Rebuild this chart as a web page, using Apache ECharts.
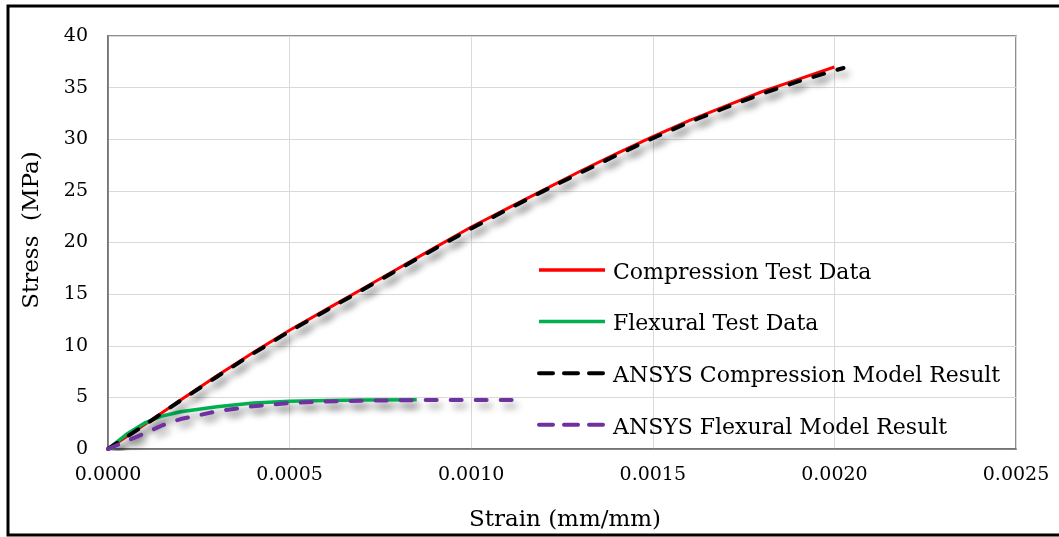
<!DOCTYPE html>
<html>
<head>
<meta charset="utf-8">
<script src="https://cdn.jsdelivr.net/npm/echarts@6/dist/echarts.min.js"></script>
<style>
  html, body { margin: 0; padding: 0; background: #ffffff; }
  #chart { width: 1059px; height: 537px; }
</style>
</head>
<body>
<div id="chart"></div>
<script>
// Strain (mm/mm) vs stress (MPa)
const compStrain = [0, 0.0001, 0.0002, 0.0003, 0.0004, 0.0005, 0.0006, 0.0007, 0.0008, 0.0009, 0.0010,
  0.0011, 0.0012, 0.0013, 0.0014, 0.0015, 0.0016, 0.0017, 0.0018, 0.0019, 0.0020];
const compStress = [0, 2.35, 4.75, 7.1, 9.35, 11.5, 13.5, 15.5, 17.5, 19.5, 21.5,
  23.3, 25.1, 26.9, 28.6, 30.25, 31.8, 33.2, 34.6, 35.8, 37.0];

const flexStrain = [0, 0.00005, 0.0001, 0.00015, 0.0002, 0.0003, 0.0004, 0.0005, 0.0006, 0.0007, 0.00085];
const flexStress = [0, 1.4, 2.5, 3.2, 3.6, 4.1, 4.45, 4.62, 4.7, 4.74, 4.76];

const ansysCompStrain = [0, 0.0001, 0.0002, 0.0003, 0.0004, 0.0005, 0.0006, 0.0007, 0.0008, 0.0009, 0.0010,
  0.0011, 0.0012, 0.0013, 0.0014, 0.0015, 0.0016, 0.0017, 0.0018, 0.0019, 0.0020, 0.002025];
const ansysCompStress = [0, 2.3, 4.7, 7.0, 9.25, 11.4, 13.4, 15.4, 17.4, 19.4, 21.35,
  23.2, 25.0, 26.75, 28.45, 30.1, 31.65, 33.05, 34.4, 35.6, 36.65, 36.9];

const ansysFlexStrain = [0, 0.0001, 0.00015, 0.0002, 0.0003, 0.0004, 0.0005, 0.0006, 0.0007, 0.0008, 0.0009, 0.0010, 0.00113];
const ansysFlexStress = [0, 1.5, 2.3, 2.9, 3.65, 4.15, 4.45, 4.6, 4.68, 4.72, 4.74, 4.75, 4.75];

const seriesNames = ['Compression Test Data', 'Flexural Test Data',
  'ANSYS Compression Model Result', 'ANSYS Flexural Model Result'];
const seriesColors = ['#ff0000', '#00b050', '#000000', '#7030a0'];
const seriesWidths = [3, 3.5, 4, 4];
const seriesDashed = [false, false, true, true];
const xTicks = { min: 0, max: 0.0025, step: 0.0005 };
const yTicks = { min: 0, max: 40, step: 5 };

const FONT = 'DejaVu Serif';
const DASH = [11, 14];
const pairs = (xs, ys) => xs.map((x, i) => [x, ys[i]]);

const shadow = {
  shadowColor: 'rgba(0,0,0,0.38)',
  shadowBlur: 7,
  shadowOffsetX: 4,
  shadowOffsetY: 6
};

function lineSeries(i, data) {
  return {
    name: seriesNames[i],
    type: 'line',
    data: data,
    showSymbol: false,
    symbol: 'none',
    smooth: false,
    lineStyle: Object.assign({
      color: seriesColors[i],
      width: seriesWidths[i],
      type: seriesDashed[i] ? DASH : 'solid',
      cap: seriesDashed[i] ? 'round' : 'butt',
      join: 'round'
    }, shadow),
    itemStyle: { color: seriesColors[i] },
    emphasis: { disabled: true },
    animation: false
  };
}

// legend keys: short line samples next to the legend labels
const LEGEND_TOP = 256;
const LEGEND_STEP = 51.6;
const legendKeys = seriesNames.map((name, i) => ({
  type: 'line', silent: true, z: 50,
  shape: { x1: 539, y1: 0, x2: 605, y2: 0 },
  y: LEGEND_TOP + 12 + i * LEGEND_STEP + 2,
  style: {
    stroke: seriesColors[i],
    lineWidth: seriesDashed[i] ? 4 : 3.5,
    lineDash: seriesDashed[i] ? [14, 11] : null,
    lineCap: seriesDashed[i] ? 'round' : 'butt'
  }
}));

const chart = echarts.init(document.getElementById('chart'), null, { renderer: 'canvas' });

chart.setOption({
  backgroundColor: '#ffffff',
  animation: false,
  grid: {
    left: 108, right: 43, top: 36, bottom: 88,
    show: true, borderColor: '#6b6b6b', borderWidth: 1.5, backgroundColor: 'transparent'
  },
  legend: {
    orient: 'vertical',
    left: 533,
    top: LEGEND_TOP,
    icon: 'none',
    itemWidth: 70,
    itemHeight: 14,
    itemGap: LEGEND_STEP - 24,
    selectedMode: false,
    textStyle: { fontFamily: FONT, fontSize: 22, color: '#000000', lineHeight: 24 },
    data: seriesNames
  },
  xAxis: {
    type: 'value',
    min: xTicks.min, max: xTicks.max, interval: xTicks.step,
    axisLine: { show: true, lineStyle: { color: '#6b6b6b', width: 1.5 } },
    axisTick: { show: false },
    axisLabel: {
      margin: 17, fontFamily: FONT, fontSize: 19, color: '#000000',
      formatter: v => v.toFixed(4)
    },
    splitLine: { show: true, lineStyle: { color: '#d9d9d9', width: 1 } }
  },
  yAxis: {
    type: 'value',
    min: yTicks.min, max: yTicks.max, interval: yTicks.step,
    axisLine: { show: true, lineStyle: { color: '#6b6b6b', width: 1.5 } },
    axisTick: { show: false },
    axisLabel: { margin: 20, fontFamily: FONT, fontSize: 19, color: '#000000' },
    splitLine: { show: true, lineStyle: { color: '#d9d9d9', width: 1 } }
  },
  graphic: [
    {
      type: 'rect', silent: true, z: 100,
      shape: { x: 8, y: 6, width: 1070, height: 529 },
      style: { fill: 'none', stroke: '#000000', lineWidth: 3 }
    },
    {
      type: 'text', silent: true,
      x: 565, y: 520,
      style: {
        text: 'Strain (mm/mm)', fontFamily: FONT, fontSize: 23, fill: '#000000',
        align: 'center', verticalAlign: 'middle'
      }
    },
    {
      type: 'text', silent: true,
      x: 32, y: 230, rotation: Math.PI / 2,
      style: {
        text: 'Stress  (MPa)', fontFamily: FONT, fontSize: 23, fill: '#000000',
        align: 'center', verticalAlign: 'middle'
      }
    }
  ].concat(legendKeys),
  series: [
    lineSeries(0, pairs(compStrain, compStress)),
    lineSeries(1, pairs(flexStrain, flexStress)),
    lineSeries(2, pairs(ansysCompStrain, ansysCompStress)),
    lineSeries(3, pairs(ansysFlexStrain, ansysFlexStress))
  ]
});
</script>
</body>
</html>
